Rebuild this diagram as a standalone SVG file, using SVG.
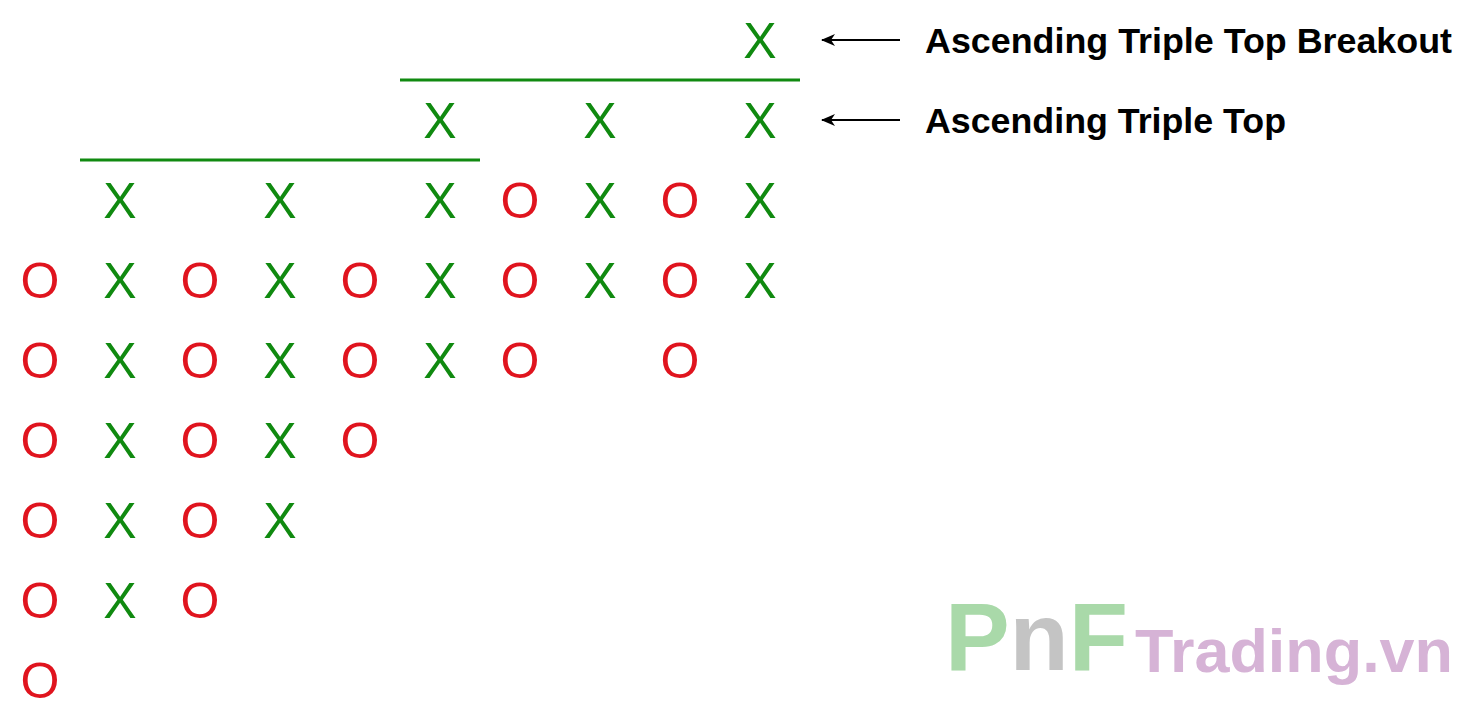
<svg xmlns="http://www.w3.org/2000/svg" width="1480" height="720" viewBox="0 0 1480 720">
<style>
.x{font-family:"Liberation Sans",Arial,sans-serif;font-size:50px;fill:#108a10;text-anchor:middle}
.o{font-family:"Liberation Sans",Arial,sans-serif;font-size:50px;fill:#e0141e;text-anchor:middle}
.lbl{font-family:"Liberation Sans",Arial,sans-serif;font-size:35px;font-weight:bold;fill:#000}
.wm{font-family:"Liberation Sans",Arial,sans-serif;font-weight:bold}
</style>
<defs><marker id="ah" markerWidth="14" markerHeight="12" refX="13" refY="6" orient="auto" markerUnits="userSpaceOnUse"><path d="M0,0 L14,6 L0,12 L4,6 Z" fill="#000"/></marker></defs>
<rect width="1480" height="720" fill="#fff"/>
<g id="lines" stroke="#108a10" stroke-width="3">
<line x1="400" y1="80" x2="800" y2="80"/>
<line x1="80" y1="160" x2="480" y2="160"/>
</g>
<g id="connectors" stroke="#000" stroke-width="2">
<line x1="900" y1="40" x2="822" y2="40" marker-end="url(#ah)"/>
<line x1="900" y1="120" x2="822" y2="120" marker-end="url(#ah)"/>
</g>
<g id="grid">
<text class="x" x="760" y="58">X</text>
<text class="x" x="440" y="138">X</text><text class="x" x="600" y="138">X</text><text class="x" x="760" y="138">X</text>
<text class="x" x="120" y="218">X</text><text class="x" x="280" y="218">X</text><text class="x" x="440" y="218">X</text><text class="o" x="520" y="218">O</text><text class="x" x="600" y="218">X</text><text class="o" x="680" y="218">O</text><text class="x" x="760" y="218">X</text>
<text class="o" x="40" y="298">O</text><text class="x" x="120" y="298">X</text><text class="o" x="200" y="298">O</text><text class="x" x="280" y="298">X</text><text class="o" x="360" y="298">O</text><text class="x" x="440" y="298">X</text><text class="o" x="520" y="298">O</text><text class="x" x="600" y="298">X</text><text class="o" x="680" y="298">O</text><text class="x" x="760" y="298">X</text>
<text class="o" x="40" y="378">O</text><text class="x" x="120" y="378">X</text><text class="o" x="200" y="378">O</text><text class="x" x="280" y="378">X</text><text class="o" x="360" y="378">O</text><text class="x" x="440" y="378">X</text><text class="o" x="520" y="378">O</text><text class="o" x="680" y="378">O</text>
<text class="o" x="40" y="458">O</text><text class="x" x="120" y="458">X</text><text class="o" x="200" y="458">O</text><text class="x" x="280" y="458">X</text><text class="o" x="360" y="458">O</text>
<text class="o" x="40" y="538">O</text><text class="x" x="120" y="538">X</text><text class="o" x="200" y="538">O</text><text class="x" x="280" y="538">X</text>
<text class="o" x="40" y="618">O</text><text class="x" x="120" y="618">X</text><text class="o" x="200" y="618">O</text>
<text class="o" x="40" y="698">O</text>
</g>
<g id="labels">
<text class="lbl" x="925" y="53" textLength="527" lengthAdjust="spacingAndGlyphs">Ascending Triple Top Breakout</text>
<text class="lbl" x="925" y="133" textLength="361" lengthAdjust="spacingAndGlyphs">Ascending Triple Top</text>
</g>
<g id="watermark">
<text class="wm" x="945" y="670" font-size="97" textLength="183" lengthAdjust="spacing"><tspan fill="#a9d9a9">P</tspan><tspan fill="#c4c4c4">n</tspan><tspan fill="#a9d9a9">F</tspan></text>
<text class="wm" x="1135" y="672" font-size="62" fill="#d6b3d6" textLength="318" lengthAdjust="spacingAndGlyphs">Trading.vn</text>
</g>
</svg>
